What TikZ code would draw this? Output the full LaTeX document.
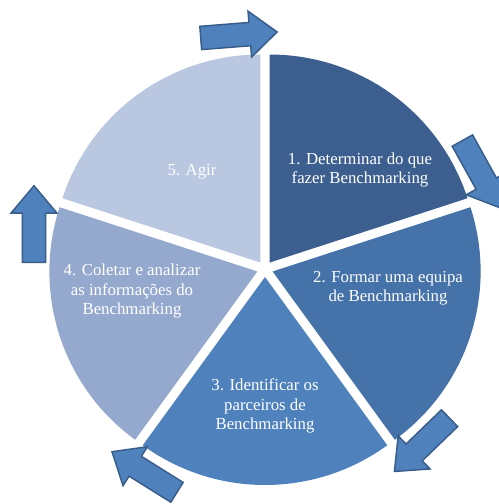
\documentclass[tikz,border=0pt]{standalone}
\usepackage{fontspec}
\setmainfont{Liberation Serif}
\usetikzlibrary{shapes.arrows}

\definecolor{stepone}{HTML}{3C5F90}
\definecolor{steptwo}{HTML}{4572A9}
\definecolor{stepthree}{HTML}{4F81BD}
\definecolor{stepfour}{HTML}{95A9CF}
\definecolor{stepfive}{HTML}{B9C7E1}
\definecolor{arrowfill}{HTML}{4F81BD}
\definecolor{arrowedge}{HTML}{385D8A}

\begin{document}
\begin{tikzpicture}[x=0.75pt, y=0.75pt]
    \tikzstyle{slice-label}=[text=white, align=center, font=\fontsize{12.6}{14.6}\selectfont]
    \tikzstyle{cycle-arrow}=[single arrow, draw=arrowedge, fill=arrowfill, line width=1.1pt,
        inner xsep=0pt, inner ysep=8.2pt, minimum height=57.5pt,
        single arrow head extend=8.5pt, single arrow tip angle=80]

    \useasboundingbox (0, 0) rectangle (499, 504);

    % the five steps, each slice pushed a little out along its middle
    \begin{scope}[shift={(265, 235)}]
        \foreach \from/\to/\col in {18/90/stepone, -54/18/steptwo, -126/-54/stepthree,
                                    162/234/stepfour, 90/162/stepfive}
        {
            \fill[\col, shift={({(\from+\to)/2}:8)}]
            (0, 0) -- (\from:208) arc[start angle=\from, end angle=\to, radius=208] -- cycle;
        }
    \end{scope}

    \node[slice-label] (step-one) at (360, 334) {1. Determinar do que\\fazer Benchmarking};
    \node[slice-label] (step-two) at (388, 216) {2. Formar uma equipa\\de Benchmarking};
    \node[slice-label] (step-three) at (265, 98) {3. Identificar os\\parceiros de\\Benchmarking};
    \node[slice-label] (step-four) at (132, 213) {4. Coletar e analizar\\as informações do\\Benchmarking};
    \node[slice-label] (step-five) at (192, 332) {5. Agir};

    % arrows round the outside, clockwise
    \node[cycle-arrow, rotate=4.5] (to-one) at (232, 468.5) {};
    \node[cycle-arrow, rotate=-61] (to-two) at (477.6, 336) {};
    \node[cycle-arrow, rotate=-136] (to-three) at (427, 64) {};
    \node[cycle-arrow, rotate=148] (to-four) at (150.4, 28.3) {};
    \node[cycle-arrow, rotate=90] (to-five) at (34, 273) {};
\end{tikzpicture}
\end{document}
